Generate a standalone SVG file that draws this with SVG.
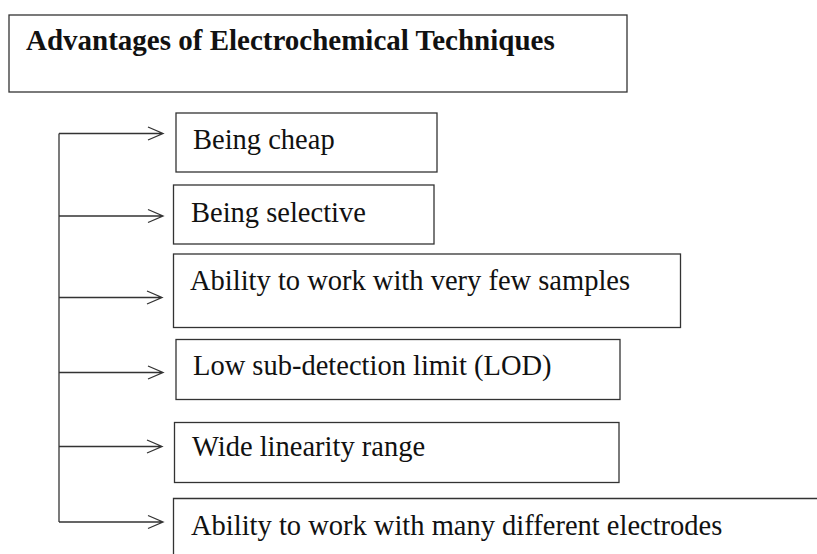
<svg xmlns="http://www.w3.org/2000/svg" width="817" height="554" viewBox="0 0 817 554">
  <style>
    .box { fill: #ffffff; stroke: #333333; stroke-width: 1.3; }
    .lbl { font-family: "Liberation Serif", "Times New Roman", serif; font-size: 28.5px; fill: #111111; }
    .ttl { font-family: "Liberation Serif", "Times New Roman", serif; font-size: 29px; font-weight: bold; fill: #111111; }
    .wire { fill: none; stroke: #333333; stroke-width: 1.3; }
  </style>
  <rect width="817" height="554" fill="#ffffff"/>

  <g id="title">
    <rect class="box" x="9" y="15" width="618" height="77"/>
    <text class="ttl" x="26" y="50">Advantages of Electrochemical Techniques</text>
  </g>

  <g id="item-cheap">
    <rect class="box" x="176" y="113" width="261" height="59"/>
    <text class="lbl" x="193" y="149">Being cheap</text>
  </g>

  <g id="item-selective">
    <rect class="box" x="173.5" y="185" width="260.5" height="59"/>
    <text class="lbl" x="191" y="221.5">Being selective</text>
  </g>

  <g id="item-samples">
    <rect class="box" x="173.5" y="254" width="507" height="73.5"/>
    <text class="lbl" x="190" y="290">Ability to work with very few samples</text>
  </g>

  <g id="item-lod">
    <rect class="box" x="176" y="339.5" width="444" height="60"/>
    <text class="lbl" x="193" y="375">Low sub-detection limit (LOD)</text>
  </g>

  <g id="item-linearity">
    <rect class="box" x="174.5" y="422.5" width="444.5" height="60"/>
    <text class="lbl" x="192" y="456">Wide linearity range</text>
  </g>

  <g id="item-electrodes">
    <path class="wire" d="M173.5 554 V498.5 H817"/>
    <text class="lbl" x="191" y="535">Ability to work with many different electrodes</text>
  </g>

  <g id="connectors">
    <path class="wire" d="M59 133.5 V522"/>
    <path class="wire" d="M59 133.5 H163 M148 127 L163 133.5 L148 140"/>
    <path class="wire" d="M59 216 H163 M148 209.5 L163 216 L148 222.5"/>
    <path class="wire" d="M59 297.5 H162 M147 291 L162 297.5 L147 304"/>
    <path class="wire" d="M59 372.5 H163 M148 366 L163 372.5 L148 379"/>
    <path class="wire" d="M59 446.5 H162 M147 440 L162 446.5 L147 453"/>
    <path class="wire" d="M59 522 H163 M148 515.5 L163 522 L148 528.5"/>
  </g>
</svg>
